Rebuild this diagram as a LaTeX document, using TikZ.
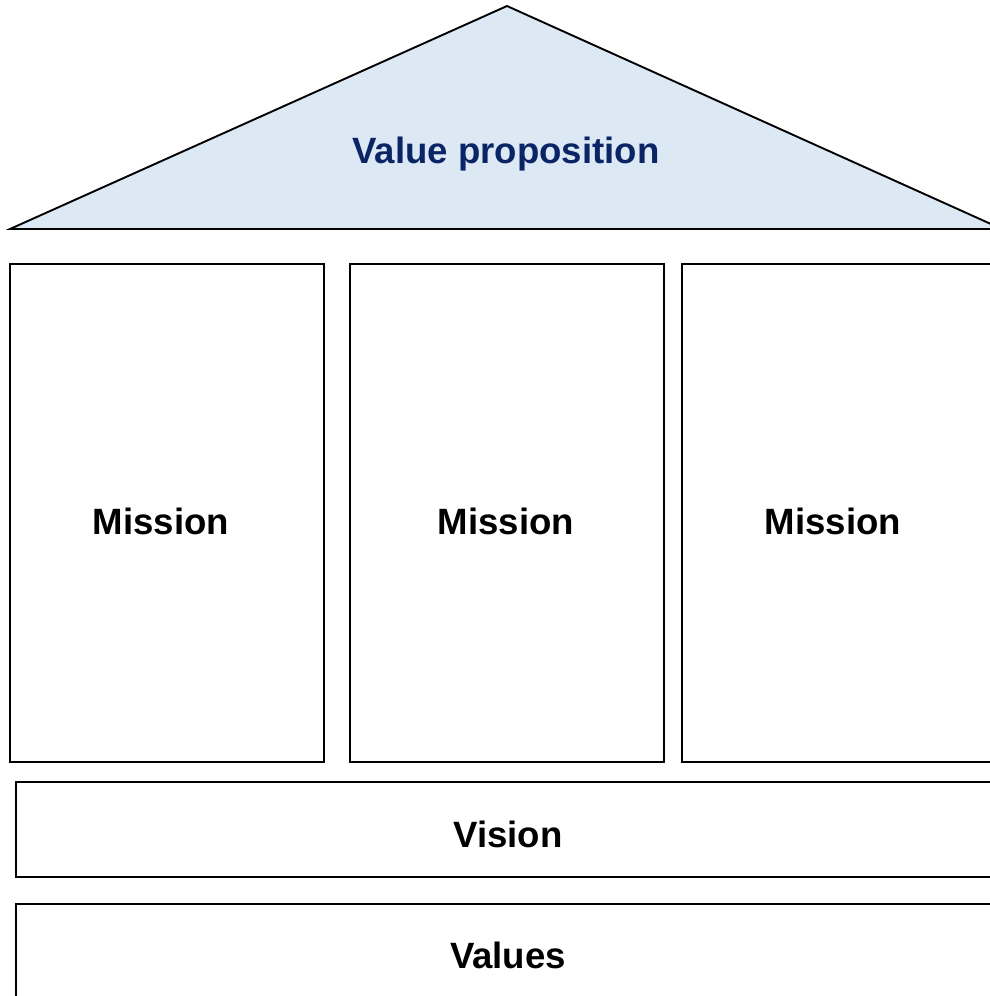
\documentclass[tikz,border=0pt]{standalone}
\usepackage{fontspec}
\setmainfont{Liberation Sans}
\definecolor{roofblue}{HTML}{DDE8F5}
\definecolor{navytext}{HTML}{0B2466}
\begin{document}
\begin{tikzpicture}[x=1pt,y=-1pt,
  outline/.style={draw=black,line width=1.9pt},
  pillar/.style={outline,rectangle,minimum width=314pt,minimum height=498pt,inner sep=0pt,anchor=north west},
  band/.style={outline,rectangle,minimum width=986pt,inner sep=0pt,anchor=north west},
  label/.style={font=\bfseries\fontsize{36.6}{40}\selectfont,text=black,inner sep=0pt,anchor=base}]
  \useasboundingbox (0,0) rectangle (990,996);

  % roof
  \coordinate (apex) at (507,6);
  \coordinate (eaveL) at (10,229);
  \coordinate (eaveR) at (1002,229);
  \filldraw[outline,fill=roofblue,line join=miter] (eaveL) -- (apex) -- (eaveR) -- cycle;
  \node[label,text=navytext] (roof) at (506,163.5) {Value proposition};

  % pillars
  \node[pillar] (p1) at (9,263) {};
  \node[pillar] (p2) at (349,263) {};
  \node[pillar] (p3) at (681,263) {};
  \node[label] (m1) at (161,534.5) {Mission};
  \node[label] (m2) at (506,534.5) {Mission};
  \node[label] (m3) at (833,534.5) {Mission};

  % foundation bands
  \node[band,minimum height=95pt] (vision) at (15,781) {};
  \node[label] (visiontext) at (508,847.5) {Vision};
  \node[band,minimum height=120pt] (values) at (15,903) {};
  \node[label] (valuestext) at (508,968.5) {Values};
\end{tikzpicture}
\end{document}
